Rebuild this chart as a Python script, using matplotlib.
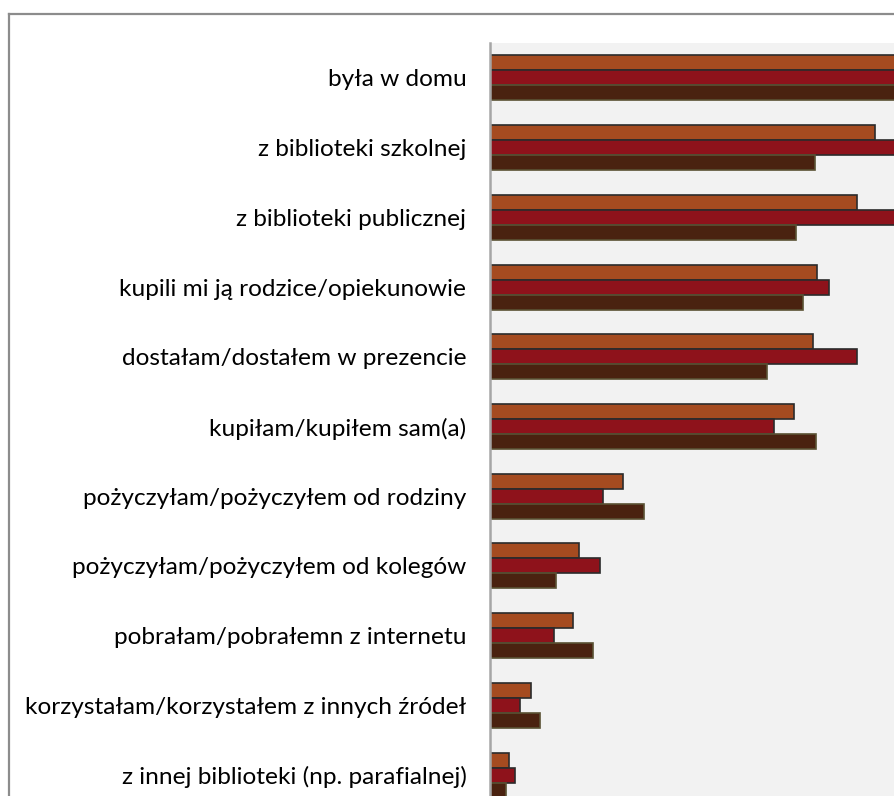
import matplotlib.pyplot as plt
from matplotlib.lines import Line2D
import numpy as np

categories = [
    "była w domu",
    "z biblioteki szkolnej",
    "z biblioteki publicznej",
    "kupili mi ją rodzice/opiekunowie",
    "dostałam/dostałem w prezencie",
    "kupiłam/kupiłem sam(a)",
    "pożyczyłam/pożyczyłem od rodziny",
    "pożyczyłam/pożyczyłem od kolegów",
    "pobrałam/pobrałemn z internetu",
    "korzystałam/korzystałem z innych źródeł",
    "z innej biblioteki (np. parafialnej)",
]

# values in % (the first bars run past the right edge)
series_a = [75.0, 64.2, 61.2, 54.5, 53.8, 50.7, 22.2, 14.8, 13.8, 6.8, 3.2]
series_b = [78.0, 70.0, 68.0, 56.5, 61.2, 47.3, 18.8, 18.3, 10.7, 5.0, 4.2]
series_c = [72.0, 54.2, 51.0, 52.2, 46.2, 54.3, 25.7, 11.0, 17.2, 8.3, 2.7]

W, H = 894, 796
fig = plt.figure(figsize=(W / 100, H / 100), dpi=100)
plt.rcParams['font.family'] = ['Lato', 'DejaVu Sans']

# outer chart border (only top and left visible)
fig.add_artist(Line2D([8.5 / W, 8.5 / W], [1 - 14 / H, -0.1], color="#8c8c8c", lw=1.6))
fig.add_artist(Line2D([8.5 / W, 1.1], [1 - 14 / H, 1 - 14 / H], color="#8c8c8c", lw=1.6))

ax = fig.add_axes([490 / W, (H - 810) / H, (W - 490) / W, (810 - 43) / H])
ax.set_facecolor("#f2f2f2")

y = np.arange(len(categories))
h = 0.215
ax.barh(y - h, series_a, height=h, color="#a54b20", edgecolor="#2b2b2b", linewidth=1.2)
ax.barh(y, series_b, height=h, color="#8e121b", edgecolor="#2b2b2b", linewidth=1.2)
ax.barh(y + h, series_c, height=h, color="#4a2210", edgecolor="#5a5234", linewidth=1.2)

ax.set_xlim(0, 404 / 6.0)
ax.set_ylim(len(categories) - 0.5, -0.5)
ax.set_yticks(y)
ax.set_yticklabels(categories, fontsize=17.6, color="#000000")
ax.tick_params(axis="y", length=0, pad=17)
ax.set_xticks([])
for s in ["top", "right", "bottom"]:
    ax.spines[s].set_visible(False)
ax.spines["left"].set_color("#a6a6a6")
ax.spines["left"].set_linewidth(1.8)

fig.savefig("out.png", dpi=100)
